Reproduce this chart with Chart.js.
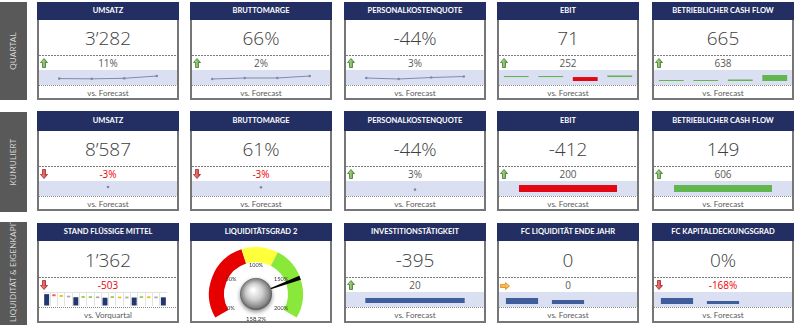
<!DOCTYPE html>
<html lang="de"><head><meta charset="utf-8">
<script src="https://cdn.jsdelivr.net/npm/chart.js@4.4.1/dist/chart.umd.min.js"></script>
<style>
html,body{margin:0;padding:0;background:#fff}
body{width:795px;height:325px;position:relative;overflow:hidden}
.rowlab{position:absolute;left:0;width:27px;background:#595959;overflow:hidden}
.rowlab span{position:absolute;left:0;height:27px;line-height:27px;transform-origin:0 0;transform:rotate(-90deg);color:#d4d4d4;font-family:Lato,sans-serif;font-size:8px;letter-spacing:0.2px;white-space:nowrap;overflow:hidden;box-sizing:border-box}
.tile{position:absolute;width:142px;box-sizing:border-box;border:2px solid #767676;border-top:0;background:#fff}
.hdr{position:absolute;left:-2px;top:0;width:142px;background:#232f62;color:#fff;font-family:Lato,sans-serif;font-weight:700;font-size:7.5px;text-align:center;white-space:nowrap}
.big{position:absolute;left:0;width:138px;height:24px;line-height:24px;text-align:center;font-family:'Open Sans',sans-serif;font-weight:300;font-size:19px;color:#404040}
.dash{position:absolute;left:0;width:138px;height:1px;background:repeating-linear-gradient(90deg,#7a7a7a 0 2px,transparent 2px 3px)}
.sub{position:absolute;left:0;width:138px;height:14px;line-height:14px;text-align:center;font-family:'Open Sans',sans-serif;font-size:10px;color:#595959}
.sub.neg{color:#f00000}
.band{position:absolute;left:0;width:138px;height:15px;background:#dae0f2}
.dot{position:absolute;left:0;width:138px;height:1px;background:repeating-linear-gradient(90deg,#8a8a8a 0 1px,transparent 1px 2px)}
.foot{position:absolute;left:0;width:138px;height:12px;line-height:12px;text-align:center;font-family:Lato,sans-serif;font-size:8px;color:#595959}
.arrow{position:absolute;left:1px}
canvas{position:absolute}
</style></head><body>
<script>
// ---------- DATA ----------
const rowLabels = ['QUARTAL', 'KUMULIERT', 'LIQUIDITÄT & EIGENKAPITAL'];
const tileTitles = [
  ['UMSATZ', 'BRUTTOMARGE', 'PERSONALKOSTENQUOTE', 'EBIT', 'BETRIEBLICHER CASH FLOW'],
  ['UMSATZ', 'BRUTTOMARGE', 'PERSONALKOSTENQUOTE', 'EBIT', 'BETRIEBLICHER CASH FLOW'],
  ['STAND FLÜSSIGE MITTEL', 'LIQUIDITÄTSGRAD 2', 'INVESTITIONSTÄTIGKEIT', 'FC LIQUIDITÄT ENDE JAHR', 'FC KAPITALDECKUNGSGRAD']
];
const tileValues = [
  ['3’282', '66%', '-44%', '71', '665'],
  ['8’587', '61%', '-44%', '-412', '149'],
  ['1’362', '', '-395', '0', '0%']
];
const tileDeltas = [
  ['11%', '2%', '3%', '252', '638'],
  ['-3%', '-3%', '3%', '200', '606'],
  ['-503', '', '20', '0', '-168%']
];
const tileTrends = [
  ['up', 'up', 'up', 'up', 'up'],
  ['down', 'down', 'up', 'up', 'up'],
  ['down', null, 'up', 'flat', 'down']
];
const tileFooters = [
  ['vs. Forecast', 'vs. Forecast', 'vs. Forecast', 'vs. Forecast', 'vs. Forecast'],
  ['vs. Forecast', 'vs. Forecast', 'vs. Forecast', 'vs. Forecast', 'vs. Forecast'],
  ['vs. Vorquartal', null, 'vs. Forecast', 'vs. Forecast', 'vs. Forecast']
];

// quarterly sparklines
const quarterLabels = ['Q1', 'Q2', 'Q3', 'Q4'];
const umsatzQ = [2880, 2840, 2920, 3282];
const bruttomargeQ = [60, 62, 62, 66];
const personalQ = [-47, -49, -46, -44];
const ebitQ = [12, 12, -45, 18];
const cashflowQ = [10, 10, 15, 60];

// cumulated
const cumLabels = ['YTD'];
const umsatzK = [8587];
const bruttomargeK = [61];
const personalK = [-44];
const ebitK = [-412];
const cashflowK = [149];

// liquidity waterfall (Stand flüssige Mittel)
const liqCats = ['VQ', 'R1', 'R2', 'R3', 'M1', 'R4', 'R5', 'R6', 'M2', 'R7', 'R8', 'R9', 'M3', 'R10', 'R11', 'R12', 'AQ'];
const liqTotals = [1865, null, null, null, 1380, null, null, null, 1300, null, null, null, 1330, null, null, null, 1362];
const liqChangeLow  = [null, 1540, 1440, 1360, null, 1280, 1260, 1230, null, 1260, 1210, 1200, null, 1260, 1240, 1220, null];
const liqChangeHigh = [null, 1840, 1720, 1620, null, 1560, 1540, 1500, null, 1540, 1480, 1470, null, 1540, 1520, 1490, null];
const liqChangeKind = [null, 'neg', 'mid', 'neutral', null, 'pos', 'pos', 'neutral', null, 'pos', 'mid', 'neutral', null, 'pos', 'mid', 'neutral', null];

// gauge (Liquiditätsgrad 2)
const gaugeSegments = ['rot', 'gelb', 'grün'];
const gaugeBands = [85, 38, 77];
const gaugeTicks = [0, 50, 100, 150, 200];
const gaugeValue = 158.2;

// row 3 bars
const investLabels = ['IST'];
const investK = [-395];
const fcLabels = ['FC', 'BU', 'VJ'];
const fcLiqValues = [300, 200, 0];
const fcKapValues = [168, 84, 0];

// ---------- LAYOUT ----------
const colLeft = [37, 190, 344, 497, 652];
const rowTop = [2, 111, 223];
const rowH = [98, 100, 100];
const rowDy = [0, 2, 1];
const GREEN = '#62b650', RED = '#e30613', BLUE = '#3f5d9b', NAVY = '#22366f', LINE = '#8089ad';

Chart.defaults.animation = false;
Chart.defaults.responsive = false;
Chart.defaults.maintainAspectRatio = false;
Chart.defaults.devicePixelRatio = 1;
Chart.defaults.events = [];
Chart.defaults.plugins.legend.display = false;
Chart.defaults.plugins.tooltip.enabled = false;

const arrowSvg = {
  up: '<svg class="arrow" width="8" height="10" viewBox="0 0 8 10"><defs><linearGradient id="gu" x1="0" x2="1"><stop offset="0" stop-color="#c5e6a8"/><stop offset="1" stop-color="#5d9c3a"/></linearGradient></defs><polygon points="4,0.5 7.5,4.5 5.5,4.5 5.5,9.5 2.5,9.5 2.5,4.5 0.5,4.5" fill="url(#gu)" stroke="#3e7a2a" stroke-width="0.8"/></svg>',
  down: '<svg class="arrow" width="8" height="10" viewBox="0 0 8 10"><defs><linearGradient id="gd" x1="0" x2="1"><stop offset="0" stop-color="#f4a0a0"/><stop offset="1" stop-color="#c83232"/></linearGradient></defs><polygon points="2.5,0.5 5.5,0.5 5.5,5.5 7.5,5.5 4,9.5 0.5,5.5 2.5,5.5" fill="url(#gd)" stroke="#a52222" stroke-width="0.8"/></svg>',
  flat: '<svg class="arrow" width="10" height="8" viewBox="0 0 10 8"><defs><linearGradient id="gf" x1="0" y1="0" x2="0" y2="1"><stop offset="0" stop-color="#ffd58a"/><stop offset="1" stop-color="#f0a020"/></linearGradient></defs><polygon points="0.5,2.5 5.5,2.5 5.5,0.5 9.5,4 5.5,7.5 5.5,5.5 0.5,5.5" fill="url(#gf)" stroke="#d88a10" stroke-width="0.8"/></svg>'
};

function el(tag, cls, parent, style, html) {
  const e = document.createElement(tag);
  if (cls) e.className = cls;
  if (style) Object.assign(e.style, style);
  if (html !== undefined) e.innerHTML = html;
  parent.appendChild(e);
  return e;
}
function canvasIn(parent, left, top, w, h) {
  const c = document.createElement('canvas');
  c.width = w; c.height = h;
  c.style.left = left + 'px'; c.style.top = top + 'px';
  c.style.width = w + 'px'; c.style.height = h + 'px';
  parent.appendChild(c);
  return c;
}
function hiddenScales(ymin, ymax) {
  return { x: { display: false, offset: true }, y: { display: false, min: ymin, max: ymax } };
}
function lineSpark(cv, labels, data, ymin, ymax) {
  return new Chart(cv, {
    type: 'line',
    data: { labels, datasets: [{ data, borderColor: LINE, backgroundColor: LINE, borderWidth: 1, pointRadius: 1.3, pointBorderWidth: 0, tension: 0, clip: false }] },
    options: { layout: { padding: 0 }, scales: hiddenScales(ymin, ymax) }
  });
}
function barSpark(cv, labels, data, colors, ymin, ymax, pct) {
  return new Chart(cv, {
    type: 'bar',
    data: { labels, datasets: [{ data, backgroundColor: colors, borderWidth: 0, barPercentage: pct, categoryPercentage: 1 }] },
    options: { layout: { padding: 0 }, scales: hiddenScales(ymin, ymax) }
  });
}
const signColors = arr => arr.map(v => v < 0 ? RED : GREEN);

// row labels
rowLabels.forEach((t, r) => {
  const h = r === 2 ? 103 : rowH[r];
  const top = r === 1 ? 112 : (r === 2 ? 222 : rowTop[r]);
  const box = el('div', 'rowlab', document.body, { top: top + 'px', height: h + 'px' });
  el('span', '', box, { top: h + 'px', width: h + 'px', textAlign: r === 2 ? 'left' : 'center', paddingLeft: r === 2 ? '3px' : '0' }, t);
});

// tiles
const tiles = [];
for (let r = 0; r < 3; r++) {
  tiles.push([]);
  for (let c = 0; c < 5; c++) {
    const dy = rowDy[r];
    const t = el('div', 'tile', document.body, { left: colLeft[c] + 'px', top: rowTop[r] + 'px', height: rowH[r] + 'px' });
    const hh = 18 + (r === 1 ? 2 : 0);
    el('div', 'hdr', t, { height: hh + 'px', lineHeight: hh + 'px' }, tileTitles[r][c]);
    tiles[r].push(t);
    if (r === 2 && c === 1) continue;
    el('div', 'big', t, { top: (36 + dy - 12) + 'px' }, tileValues[r][c]);
    el('div', 'dash', t, { top: (53 + dy) + 'px' });
    const tr = tileTrends[r][c];
    if (tr) { el('div', '', t, { position: 'absolute', left: '0px', top: (tr === 'flat' ? 58 : 56) + dy + 'px' }, arrowSvg[tr]); }
    el('div', 'sub' + (tileDeltas[r][c].startsWith('-') ? ' neg' : ''), t, { top: (61 + dy - 7) + 'px' }, tileDeltas[r][c]);
    if (!(r === 2 && c === 0)) el('div', 'band', t, { top: (68 + dy) + 'px' });
    el('div', 'dot', t, { top: (83 + dy) + 'px' });
    el('div', 'foot', t, { top: (91 + dy - 6) + 'px' }, tileFooters[r][c]);
  }
}
const sparkCanvas = (r, c) => canvasIn(tiles[r][c], 0, 68 + rowDy[r], 138, 15);

// row 1
lineSpark(sparkCanvas(0, 0), quarterLabels, umsatzQ, 2500, 3600);
lineSpark(sparkCanvas(0, 1), quarterLabels, bruttomargeQ, 56, 70);
lineSpark(sparkCanvas(0, 2), quarterLabels, personalQ, -53, -39);
barSpark(sparkCanvas(0, 3), quarterLabels, ebitQ, signColors(ebitQ), -90, 80, 0.72);
barSpark(sparkCanvas(0, 4), quarterLabels, cashflowQ, signColors(cashflowQ), -40, 110, 0.72);

// row 2
lineSpark(sparkCanvas(1, 0), cumLabels, umsatzK, 7500, 9000);
lineSpark(sparkCanvas(1, 1), cumLabels, bruttomargeK, 51, 66);
lineSpark(sparkCanvas(1, 2), cumLabels, personalK, -49, -34);
barSpark(sparkCanvas(1, 3), cumLabels, ebitK, signColors(ebitK), -647, 235, 0.71);
barSpark(sparkCanvas(1, 4), cumLabels, cashflowK, signColors(cashflowK), -85, 234, 0.71);

// row 3: Stand flüssige Mittel waterfall
(function () {
  const cv = canvasIn(tiles[2][0], 4, 69, 124, 14);
  const kindColor = { neg: '#f05a5a', mid: '#f0c000', neutral: '#a8a8a8', pos: '#8fcf4f' };
  new Chart(cv, {
    type: 'bar',
    data: {
      labels: liqCats,
      datasets: [
        { data: liqTotals.map(v => v === null ? null : [0, v]), backgroundColor: NAVY, borderWidth: 0, barPercentage: 0.68, categoryPercentage: 1, grouped: false },
        { data: liqChangeLow.map((v, i) => v === null ? null : [v, liqChangeHigh[i]]), backgroundColor: liqChangeKind.map(k => k ? kindColor[k] : 'transparent'), borderWidth: 0, barPercentage: 0.46, categoryPercentage: 1, grouped: false }
      ]
    },
    options: {
      layout: { padding: 0 },
      scales: {
        x: { display: true, offset: true, grid: { color: '#e2e2e2', drawTicks: false, offset: true }, border: { color: '#e2e2e2' }, ticks: { display: false } },
        y: { display: true, min: 0, max: 2200, grid: { color: '#e2e2e2', drawTicks: false }, border: { display: false }, ticks: { display: false, stepSize: 2200 } }
      }
    }
  });
})();

// row 3: gauge
const gaugePlugin = {
  id: 'gaugeDeco',
  afterDatasetsDraw(chart) {
    const meta = chart.getDatasetMeta(0);
    const first = meta.data[0], last = meta.data[meta.data.length - 1];
    const { x, y, innerRadius, outerRadius, startAngle } = first.getProps(['x', 'y', 'innerRadius', 'outerRadius', 'startAngle'], true);
    const endAngle = last.getProps(['endAngle'], true).endAngle;
    const total = gaugeBands.reduce((a, b) => a + b, 0);
    const ang = v => startAngle + v / total * (endAngle - startAngle);
    const ctx = chart.ctx;
    ctx.save();
    ctx.font = '5.5px Lato, sans-serif';
    ctx.fillStyle = '#333';
    ctx.textAlign = 'center';
    ctx.textBaseline = 'middle';
    gaugeTicks.forEach(tk => {
      const a = ang(tk), rr = innerRadius - 3;
      ctx.fillText(tk + '%', x + rr * Math.cos(a), y + rr * Math.sin(a));
    });
    // needle
    const a = ang(gaugeValue), ca = Math.cos(a), sa = Math.sin(a);
    const r0 = 14, r1 = outerRadius;
    ctx.beginPath();
    ctx.moveTo(x + r0 * ca - 0.5 * sa, y + r0 * sa + 0.5 * ca);
    ctx.lineTo(x + r1 * ca - 2.2 * sa, y + r1 * sa + 2.2 * ca);
    ctx.lineTo(x + r1 * ca + 2.2 * sa, y + r1 * sa - 2.2 * ca);
    ctx.lineTo(x + r0 * ca + 0.5 * sa, y + r0 * sa - 0.5 * ca);
    ctx.closePath();
    ctx.fillStyle = '#000';
    ctx.fill();
    // knob
    ctx.shadowColor = 'rgba(0,0,0,0.45)';
    ctx.shadowBlur = 4;
    ctx.shadowOffsetY = 2;
    const g = ctx.createRadialGradient(x - 3, y - 4, 1, x, y, 17);
    g.addColorStop(0, '#ffffff');
    g.addColorStop(0.45, '#cfcfcf');
    g.addColorStop(0.8, '#8a8a8a');
    g.addColorStop(1, '#4a4a4a');
    ctx.beginPath();
    ctx.arc(x, y, 16, 0, Math.PI * 2);
    ctx.fillStyle = g;
    ctx.fill();
    ctx.shadowColor = 'transparent';
    ctx.font = '6px Lato, sans-serif';
    ctx.fillStyle = '#333';
    ctx.fillText(gaugeValue.toFixed(1) + '%', x, y + 25);
    ctx.restore();
  }
};
new Chart(canvasIn(tiles[2][1], 0, 18, 138, 80), {
  type: 'doughnut',
  data: { labels: gaugeSegments, datasets: [{ data: gaugeBands, backgroundColor: ['#e60000', '#ffff3c', '#8ae83a'], borderWidth: 0 }] },
  options: { rotation: -120, circumference: 240, cutout: '68%', layout: { padding: { left: 17, right: 27, top: 6, bottom: 3.5 } } },
  plugins: [gaugePlugin]
});

// row 3 bars
barSpark(sparkCanvas(2, 2), investLabels, investK, [BLUE], -711, 474, 0.72);
barSpark(sparkCanvas(2, 3), fcLabels, fcLiqValues, BLUE, -150, 600, 0.7);
barSpark(sparkCanvas(2, 4), fcLabels, fcKapValues, BLUE, -84, 336, 0.7);
</script>
</body></html>
